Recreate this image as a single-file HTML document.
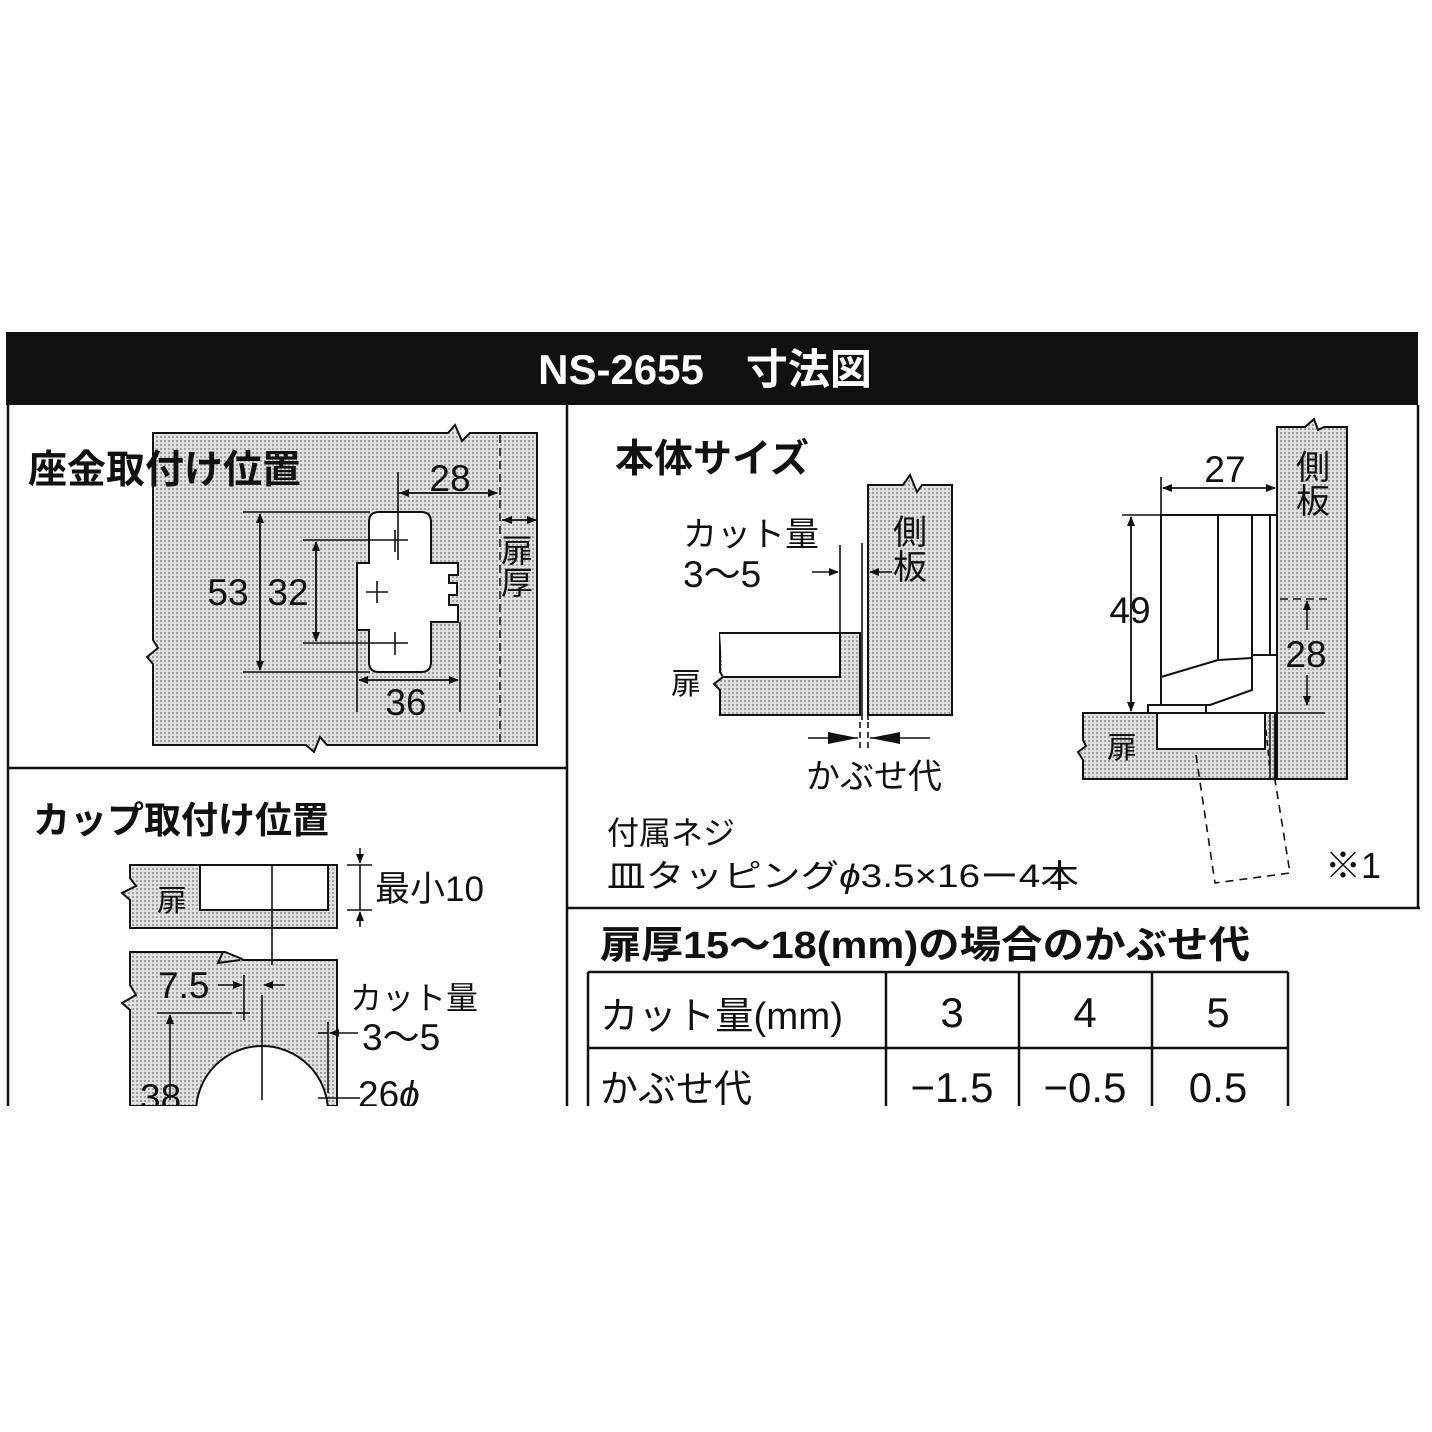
<!DOCTYPE html>
<html><head><meta charset="utf-8"><style>
html,body{margin:0;padding:0;background:#fff;}
svg{display:block;}
text{font-family:"Liberation Sans","Noto Sans CJK JP",sans-serif;fill:#111;}
.t{font-weight:bold;font-size:39px;}
.n{font-size:37px;}
</style></head><body>
<svg width="1432" height="1432" viewBox="0 0 1432 1432" xmlns="http://www.w3.org/2000/svg">
<defs>
<pattern id="dot" width="4" height="4" patternUnits="userSpaceOnUse">
<rect width="4" height="4" fill="#e0e0e0"/><rect width="2" height="2" fill="#a0a0a0"/>
</pattern>
<marker id="a" markerWidth="10" markerHeight="8" refX="9" refY="4" orient="auto" markerUnits="userSpaceOnUse"><path d="M0,0 L10,4 L0,8 z" fill="#111"/></marker>
</defs>
<rect x="0" y="0" width="1432" height="1432" fill="#fff"/>
<!-- header -->
<rect x="6" y="332" width="1412" height="73" fill="#111"/>
<text x="705" y="384" text-anchor="middle" style="fill:#fff;font-size:42px;font-weight:bold">NS-2655　寸法図</text>
<!-- frame -->
<g stroke="#111" stroke-width="2.5" fill="none">
<line x1="8" y1="405" x2="8" y2="1106"/>
<line x1="567" y1="405" x2="567" y2="1106"/>
<line x1="1418" y1="405" x2="1418" y2="908"/>
<line x1="8" y1="768" x2="567" y2="768"/>
<line x1="567" y1="908" x2="1420" y2="908"/>
</g>

<!-- Panel 1 -->
<path d="M153,433 L448,433 L455,425 L462,441 L470,433 L537,433 L537,745 L327,745 L320,737 L314,752 L306,745 L153,745 L153,664 L147,657 L158,648 L153,640 Z" fill="url(#dot)" stroke="#111" stroke-width="2"/>
<text x="28" y="483" class="t">座金取付け位置</text>
<line x1="500" y1="435" x2="500" y2="743" stroke="#111" stroke-width="1.5" stroke-dasharray="8,5"/>
<path d="M379,512 H421 Q431,512 431,522 V563 H458 V575 H449 V583 H457 V595 H449 V605 H458 V622 H431 V662 Q431,672 421,672 H379 Q369,672 369,662 V630 H357 V563 H369 V522 Q369,512 379,512 Z" fill="#fff" stroke="#111" stroke-width="2"/>
<g stroke="#111" stroke-width="1.6" fill="none">
<line x1="398" y1="472" x2="398" y2="560"/>
<line x1="398" y1="493" x2="497" y2="493" marker-end="url(#a)"/>
<line x1="497" y1="493" x2="400" y2="493" marker-end="url(#a)"/>
<line x1="502" y1="520" x2="536" y2="520" marker-end="url(#a)"/>
<line x1="536" y1="520" x2="503" y2="520" marker-end="url(#a)"/>
<line x1="243" y1="512" x2="370" y2="512"/>
<line x1="243" y1="672" x2="370" y2="672"/>
<line x1="260" y1="514" x2="260" y2="670" marker-end="url(#a)"/>
<line x1="260" y1="670" x2="260" y2="514" marker-end="url(#a)"/>
<line x1="303" y1="540" x2="408" y2="540"/>
<line x1="303" y1="643" x2="408" y2="643"/>
<line x1="316" y1="542" x2="316" y2="641" marker-end="url(#a)"/>
<line x1="316" y1="641" x2="316" y2="542" marker-end="url(#a)"/>
<line x1="395" y1="530" x2="395" y2="552"/>
<line x1="366" y1="592" x2="388" y2="592"/><line x1="377" y1="581" x2="377" y2="603"/>
<line x1="395" y1="632" x2="395" y2="655"/>
<line x1="357" y1="622" x2="357" y2="712"/>
<line x1="460" y1="622" x2="460" y2="712"/>
<line x1="359" y1="680" x2="458" y2="680" marker-end="url(#a)"/>
<line x1="458" y1="680" x2="359" y2="680" marker-end="url(#a)"/>
</g>
<text x="450" y="491" text-anchor="middle" class="n">28</text>
<text x="228" y="605" text-anchor="middle" class="n">53</text>
<text x="288" y="605" text-anchor="middle" class="n">32</text>
<text x="406" y="715" text-anchor="middle" class="n">36</text>
<text x="517" y="562" text-anchor="middle" style="font-size:32px">扉</text>
<text x="517" y="594" text-anchor="middle" style="font-size:32px">厚</text>

<!-- Panel 2 -->
<text x="33" y="833" class="t" style="font-size:37px">カップ取付け位置</text>
<path d="M130,865 L337,865 L337,928 L130,928 L130,900 L122,893 L136,886 L130,878 Z" fill="url(#dot)" stroke="#111" stroke-width="2"/>
<rect x="200" y="865" width="128" height="45" fill="#fff" stroke="#111" stroke-width="2"/>
<text x="172" y="911" text-anchor="middle" style="font-size:30px">扉</text>
<path d="M130,952 L225,952 L240,958 L243,960 L337,960 L337,1106 L130,1106 L130,1010 L122,1003 L136,995 L130,985 Z" fill="url(#dot)" stroke="#111" stroke-width="2"/>
<path d="M130,952 L223,952 L218,963 L240,960" fill="none" stroke="#111" stroke-width="2"/>
<circle cx="262" cy="1112" r="66" fill="#fff" stroke="#111" stroke-width="2"/>
<g stroke="#111" stroke-width="1.6" fill="none">
<line x1="272" y1="865" x2="272" y2="965"/>
<line x1="262" y1="995" x2="262" y2="1100"/>
<line x1="347" y1="865" x2="372" y2="865"/>
<line x1="347" y1="910" x2="372" y2="910"/>
<line x1="360" y1="848" x2="360" y2="863" marker-end="url(#a)"/>
<line x1="360" y1="927" x2="360" y2="912" marker-end="url(#a)"/>
<line x1="360" y1="865" x2="360" y2="910"/>
<line x1="218" y1="985" x2="242" y2="985" marker-end="url(#a)"/>
<line x1="285" y1="985" x2="264" y2="985" marker-end="url(#a)"/>
<line x1="244" y1="975" x2="244" y2="1020"/>
<line x1="236" y1="1013" x2="250" y2="1013"/>
<line x1="157" y1="1013" x2="232" y2="1013"/>
<line x1="170" y1="1100" x2="170" y2="1015" marker-end="url(#a)"/>
<line x1="328" y1="1022" x2="328" y2="1093"/>
<line x1="318" y1="1033" x2="328" y2="1033"/>
<line x1="358" y1="1033" x2="330" y2="1033" marker-end="url(#a)"/>
<line x1="318" y1="1098" x2="360" y2="1098"/>
</g>
<text x="375" y="901" style="font-size:35px">最小10</text>
<text x="158" y="998" class="n">7.5</text>
<text x="350" y="1009" style="font-size:32px">カット量</text>
<text x="362" y="1050" class="n">3〜5</text>
<text x="358" y="1107" class="n">26<tspan font-style="italic">ϕ</tspan></text>
<text x="140" y="1110" class="n">38</text>

<!-- Panel 3 -->
<text x="615" y="472" class="t">本体サイズ</text>
<path d="M868,485 L903,485 L910,475 L917,492 L922,485 L952,485 L952,715 L868,715 Z" fill="url(#dot)" stroke="#111" stroke-width="2"/>
<path d="M720,633 L860,633 L860,715 L720,715 L720,690 L714,684 L723,677 L720,672 Z" fill="url(#dot)" stroke="#111" stroke-width="2"/>
<path d="M720,633 L840,633 L840,677 L723,677" fill="#fff" stroke="#111" stroke-width="2"/>
<g stroke="#111" stroke-width="1.6" fill="none">
<line x1="840" y1="545" x2="840" y2="677"/>
<line x1="862" y1="543" x2="862" y2="720"/>
<line x1="868" y1="543" x2="868" y2="720"/>
<line x1="812" y1="572" x2="838" y2="572" marker-end="url(#a)"/>
<line x1="892" y1="572" x2="870" y2="572" marker-end="url(#a)"/>
<line x1="860" y1="722" x2="860" y2="752" stroke-dasharray="6,4"/>
<line x1="868" y1="722" x2="868" y2="752" stroke-dasharray="6,4"/>
<line x1="808" y1="738" x2="858" y2="738"/>
<line x1="870" y1="738" x2="930" y2="738"/>
</g>
<path d="M828,732 L858,738 L828,744 Z M900,732 L870,738 L900,744 Z" fill="#111"/>
<text x="683" y="546" style="font-size:34px">カット量</text>
<text x="683" y="587" class="n">3〜5</text>
<text x="671" y="694" style="font-size:30px">扉</text>
<text x="910" y="544" text-anchor="middle" style="font-size:34px">側</text>
<text x="910" y="579" text-anchor="middle" style="font-size:34px">板</text>
<text x="806" y="788" style="font-size:34px">かぶせ代</text>
<text x="607" y="844" style="font-size:32px">付属ネジ</text>
<text x="607" y="887" style="font-size:32px" textLength="472" lengthAdjust="spacingAndGlyphs">皿タッピング<tspan font-style="italic">ϕ</tspan>3.5×16ー4本</text>

<!-- Panel 4 -->
<path d="M1277,427 L1305,427 L1314,419 L1318,430 L1324,427 L1347,427 L1347,779 L1277,779 Z" fill="url(#dot)" stroke="#111" stroke-width="2"/>
<path d="M1083,713 L1275,713 L1275,779 L1083,779 L1083,760 L1078,752 L1086,746 L1083,740 Z" fill="url(#dot)" stroke="#111" stroke-width="2"/>
<rect x="1157" y="713" width="108" height="36" fill="#fff" stroke="#111" stroke-width="2"/>
<line x1="1270" y1="713" x2="1270" y2="779" stroke="#111" stroke-width="1.5"/>
<g stroke="#111" stroke-width="2" fill="#fff">
<path d="M1161,515 L1277,515 L1277,655 L1252,655 L1252,690 L1210,705 L1161,705 Z"/>
<line x1="1218" y1="515" x2="1218" y2="660"/>
<line x1="1252" y1="515" x2="1252" y2="655"/>
<line x1="1270" y1="515" x2="1270" y2="655"/>
<path d="M1161,677 L1218,660 L1252,658" fill="none"/>
<path d="M1148,705 L1206,705 L1206,713 L1148,713 Z"/>
</g>
<g stroke="#111" stroke-width="1.6" fill="none">
<line x1="1161" y1="477" x2="1161" y2="515"/>
<line x1="1163" y1="488" x2="1275" y2="488" marker-end="url(#a)"/>
<line x1="1275" y1="488" x2="1163" y2="488" marker-end="url(#a)"/>
<line x1="1122" y1="515" x2="1162" y2="515"/>
<line x1="1131" y1="517" x2="1131" y2="711" marker-end="url(#a)"/>
<line x1="1131" y1="711" x2="1131" y2="517" marker-end="url(#a)"/>
<line x1="1280" y1="599" x2="1328" y2="599" stroke-dasharray="8,5"/>
<line x1="1275" y1="713" x2="1325" y2="713"/>
<line x1="1307" y1="630" x2="1307" y2="601" marker-end="url(#a)"/>
<line x1="1307" y1="675" x2="1307" y2="705" marker-end="url(#a)"/>
<path d="M1196,755 L1215,883 L1290,873 L1275,780" stroke-dasharray="8,6"/>
<line x1="1265" y1="720" x2="1270" y2="770" stroke-dasharray="6,4"/>
</g>
<text x="1225" y="482" text-anchor="middle" class="n">27</text>
<text x="1130" y="623" text-anchor="middle" class="n">49</text>
<text x="1306" y="667" text-anchor="middle" class="n">28</text>
<text x="1313" y="479" text-anchor="middle" style="font-size:34px">側</text>
<text x="1313" y="513" text-anchor="middle" style="font-size:34px">板</text>
<text x="1122" y="758" text-anchor="middle" style="font-size:30px">扉</text>
<text x="1325" y="878" style="font-size:36px">※1</text>

<!-- Table -->
<text x="600" y="958" style="font-size:38px;font-weight:bold" textLength="650" lengthAdjust="spacingAndGlyphs">扉厚15〜18(mm)の場合のかぶせ代</text>
<g stroke="#111" stroke-width="2.5" fill="none">
<line x1="588" y1="972" x2="1288" y2="972"/>
<line x1="588" y1="1048" x2="1288" y2="1048"/>
<line x1="588" y1="972" x2="588" y2="1106"/>
<line x1="886" y1="972" x2="886" y2="1106"/>
<line x1="1019" y1="972" x2="1019" y2="1106"/>
<line x1="1152" y1="972" x2="1152" y2="1106"/>
<line x1="1288" y1="972" x2="1288" y2="1106"/>
</g>
<text x="600" y="1029" style="font-size:38px" textLength="243" lengthAdjust="spacingAndGlyphs">カット量(mm)</text>
<text x="952" y="1027" text-anchor="middle" style="font-size:42px">3</text>
<text x="1085" y="1027" text-anchor="middle" style="font-size:42px">4</text>
<text x="1218" y="1027" text-anchor="middle" style="font-size:42px">5</text>
<text x="600" y="1102" style="font-size:38px">かぶせ代</text>
<text x="952" y="1102" text-anchor="middle" style="font-size:42px">−1.5</text>
<text x="1085" y="1102" text-anchor="middle" style="font-size:42px">−0.5</text>
<text x="1218" y="1102" text-anchor="middle" style="font-size:42px">0.5</text>
<!-- cut off bottom -->
<rect x="0" y="1106" width="1432" height="326" fill="#fff"/>
</svg>
</body></html>
